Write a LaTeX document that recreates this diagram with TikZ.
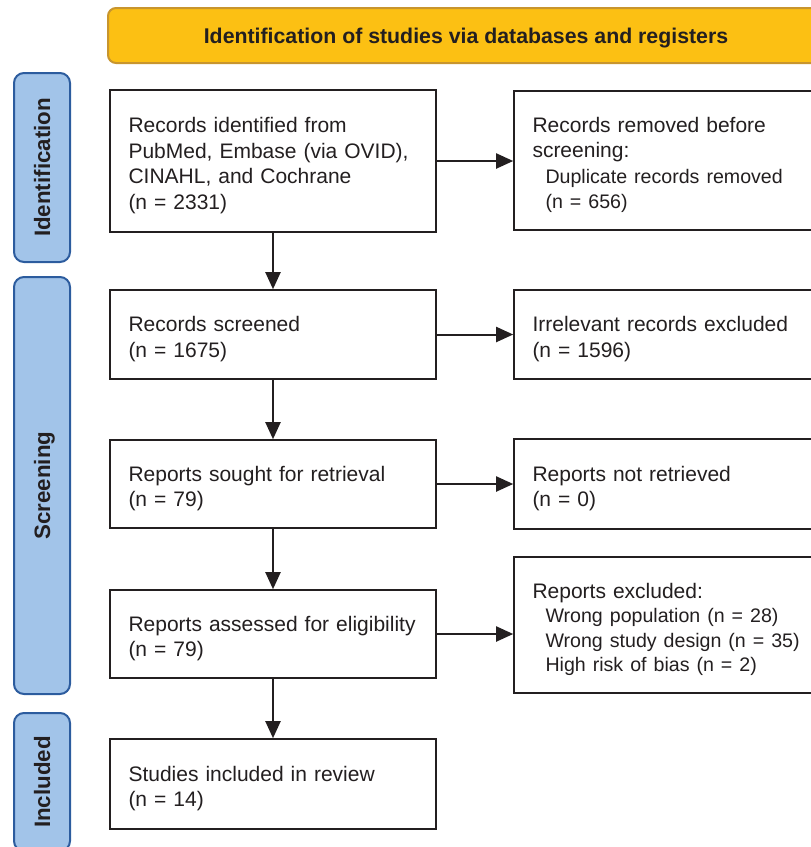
\documentclass[tikz,border=0pt]{standalone}
\usepackage{fontspec}
\setmainfont{Liberation Sans}
\usetikzlibrary{arrows.meta}
\definecolor{ink}{HTML}{231F20}
\definecolor{bannerfill}{HTML}{FCC013}
\definecolor{bannerline}{HTML}{C8952E}
\definecolor{sidefill}{HTML}{A2C4E9}
\definecolor{sideline}{HTML}{2C5C9E}
\hyphenpenalty=10000
\exhyphenpenalty=10000
\tikzset{
  lbox/.style={draw=ink, line width=1.6pt, fill=white, text=ink,
    font=\fontsize{21}{25.5}\selectfont, align=left, text width=289pt,
    inner xsep=18.5pt, inner ysep=0pt, text height=24pt, anchor=center},
  rbox/.style={lbox, text width=291pt},
  sidebox/.style={draw=sideline, fill=sidefill, line width=2pt, rounded corners=10pt,
    rotate=90, minimum height=56pt, inner sep=0pt, text=ink, text depth=0pt,
    font=\fontsize{22.3}{24}\selectfont\bfseries},
  bannerbox/.style={draw=bannerline, fill=bannerfill, line width=2pt, rounded corners=8pt,
    minimum width=716pt, minimum height=55pt, inner sep=0pt, text=ink, text depth=0pt,
    font=\fontsize{21.3}{24}\selectfont\bfseries},
  arr/.style={draw=ink, line width=2pt, -{Triangle[length=17pt,width=15pt]}},
}
\newcommand{\myindented}[1]{\hspace*{13pt}{\fontsize{19.6}{24}\selectfont #1}}
\begin{document}
\begin{tikzpicture}[x=1pt,y=-1pt]
\useasboundingbox (0,0) rectangle (811,847);
\clip (0,0) rectangle (811,847);

\node[bannerbox] (banner) at (466,35.5) {Identification of studies via databases and registers};

\node[sidebox, minimum width=189pt] (sid) at (42,167.5) {Identification};
\node[sidebox, minimum width=417pt] (sscr) at (42,485.5) {Screening};
\node[sidebox, minimum width=138pt] (sinc) at (42,782) {Included};

\node[lbox, minimum height=142pt] (b1) at (273,161) {Records identified from\\PubMed, Embase (via OVID),\\CINAHL, and Cochrane\\(n = 2331)};
\node[lbox, minimum height=89pt] (b2) at (273,334.5) {Records screened\\(n = 1675)};
\node[lbox, minimum height=88pt] (b3) at (273,484) {Reports sought for retrieval\\(n = 79)};
\node[lbox, minimum height=88pt] (b4) at (273,634) {Reports assessed for eligibility\\(n = 79)};
\node[lbox, minimum height=90pt] (b5) at (273,784) {Studies included in review\\(n = 14)};

\node[rbox, minimum height=139pt] (r1) at (678,160.5) {Records removed before\\screening:\\\myindented{Duplicate records removed}\\\myindented{(n = 656)}};
\node[rbox, minimum height=89pt] (r2) at (678,334.5) {Irrelevant records excluded\\(n = 1596)};
\node[rbox, minimum height=90pt] (r3) at (678,484) {Reports not retrieved\\(n = 0)};
\node[rbox, minimum height=136pt, font=\fontsize{21}{24.3}\selectfont] (r4) at (678,625) {Reports excluded:\\\myindented{Wrong population (n = 28)}\\\myindented{Wrong study design (n = 35)}\\\myindented{High risk of bias (n = 2)}};

\draw[arr] (b1.south) -- (b2.north);
\draw[arr] (b2.south) -- (b3.north);
\draw[arr] (b3.south) -- (b4.north);
\draw[arr] (b4.south) -- (b5.north);

\draw[arr] (b1.east) -- (b1.east -| r1.west);
\draw[arr] (b2.east) -- (b2.east -| r2.west);
\draw[arr] (b3.east) -- (b3.east -| r3.west);
\draw[arr] (b4.east) -- (b4.east -| r4.west);
\end{tikzpicture}
\end{document}
